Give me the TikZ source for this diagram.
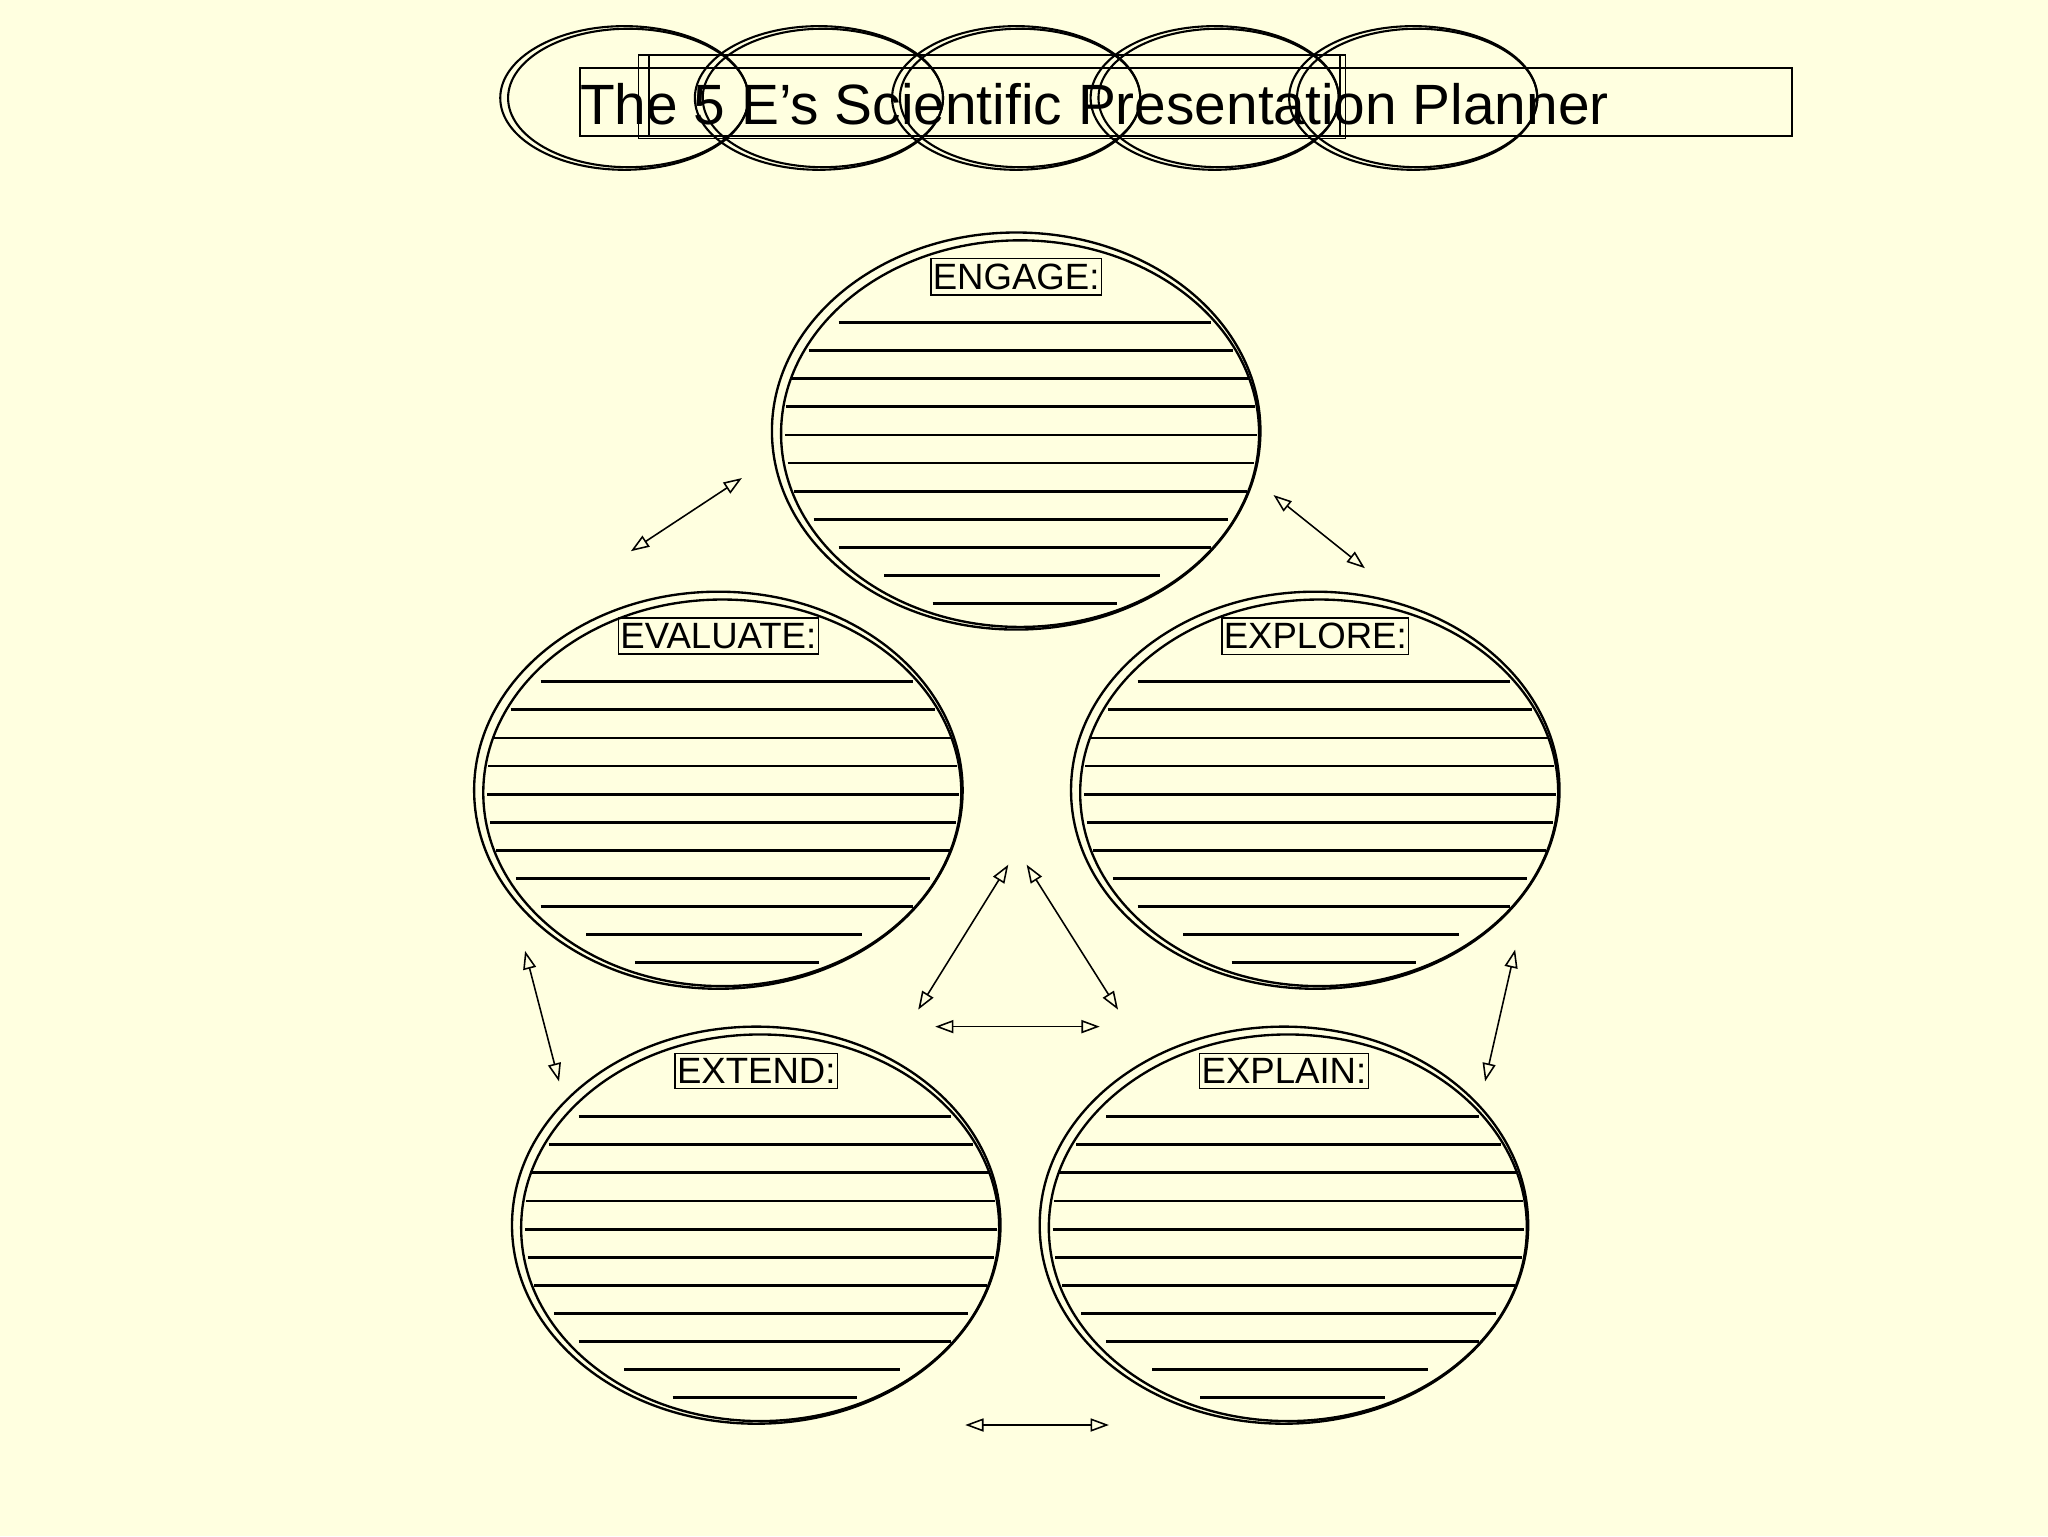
\documentclass[tikz,border=0pt]{standalone}
\usepackage{fontspec}
\setmainfont{Liberation Sans}
\usetikzlibrary{arrows.meta,calc}
\definecolor{bg}{HTML}{FFFFE0}
\tikzset{
  ring/.style={line width=1.8pt},
  lbl/.style={draw,line width=1pt,inner xsep=1.5pt,inner ysep=4pt,font=\fontsize{28}{30}\selectfont},
  fill line/.style={line width=2.2pt},
  conn/.style={line width=1.2pt,{Triangle[open,length=14pt,width=10pt]}-{Triangle[open,length=14pt,width=10pt]}}
}
\newcommand{\planner}[4]{% name, cx, cy, label
  \coordinate (#1) at (#2,#3);
  \draw[ring] (#1) ellipse [x radius=187, y radius=152];
  \draw[ring] ($(#1)+(3,2)$) ellipse [x radius=183, y radius=148];
  \foreach \dy/\l/\r in {-83/-136/149,-61.5/-159/166,-40/-173/179,-18.5/-176/183,3/-177/184,24.5/-175/182,46/-170/177,67.5/-155/162,89/-136/149,110.5/-101/110,132/-64/77}{
    \draw[fill line] ($(#1)+(\l,\dy)$) -- ($(#1)+(\r,\dy)$);
  }
  \node[lbl] (#1l) at ($(#1)+(0,-118)$) {#4};
}
\begin{document}
\begin{tikzpicture}[x=1pt,y=-1pt]
\fill[bg] (0,0) rectangle (1568,1176);
\useasboundingbox (0,0) rectangle (1568,1176);
% title ellipses
\foreach \cx in {478,627,778,930,1082}{
  \draw[line width=1.6pt] (\cx,75) ellipse [x radius=95, y radius=55];
  \draw[line width=1.6pt] (\cx+3,75) ellipse [x radius=92, y radius=53];
}
\draw[line width=1.2pt] (444,52) rectangle (1372,104);
\draw[line width=1.2pt] (489,42) rectangle (1030,106);
\draw[line width=1.2pt] (497,42) rectangle (1026,104);
\node[anchor=west,font=\fontsize{43.5}{45}\selectfont,inner sep=0] (title) at (444,80) {The 5 E’s Scientific Presentation Planner};
\planner{engage}{778}{330}{ENGAGE:}
\planner{evaluate}{550}{605}{EVALUATE:}
\planner{explore}{1007}{605}{EXPLORE:}
\planner{extend}{579}{938}{EXTEND:}
\planner{explain}{983}{938}{EXPLAIN:}
\coordinate (a1) at (483,422); \coordinate (a2) at (568,366);
\coordinate (b1) at (975,379); \coordinate (b2) at (1045,435);
\coordinate (c1) at (772,662); \coordinate (c2) at (703,773);
\coordinate (d1) at (786,662); \coordinate (d2) at (856,773);
\coordinate (e1) at (716,786); \coordinate (e2) at (842,786);
\coordinate (f1) at (402,728); \coordinate (f2) at (428,828);
\coordinate (g1) at (1160,727); \coordinate (g2) at (1137,828);
\coordinate (h1) at (739,1091); \coordinate (h2) at (849,1091);
\foreach \p in {a,b,c,d,e,f,g,h}{\draw[conn] (\p1) -- (\p2);}
\end{tikzpicture}
\end{document}
